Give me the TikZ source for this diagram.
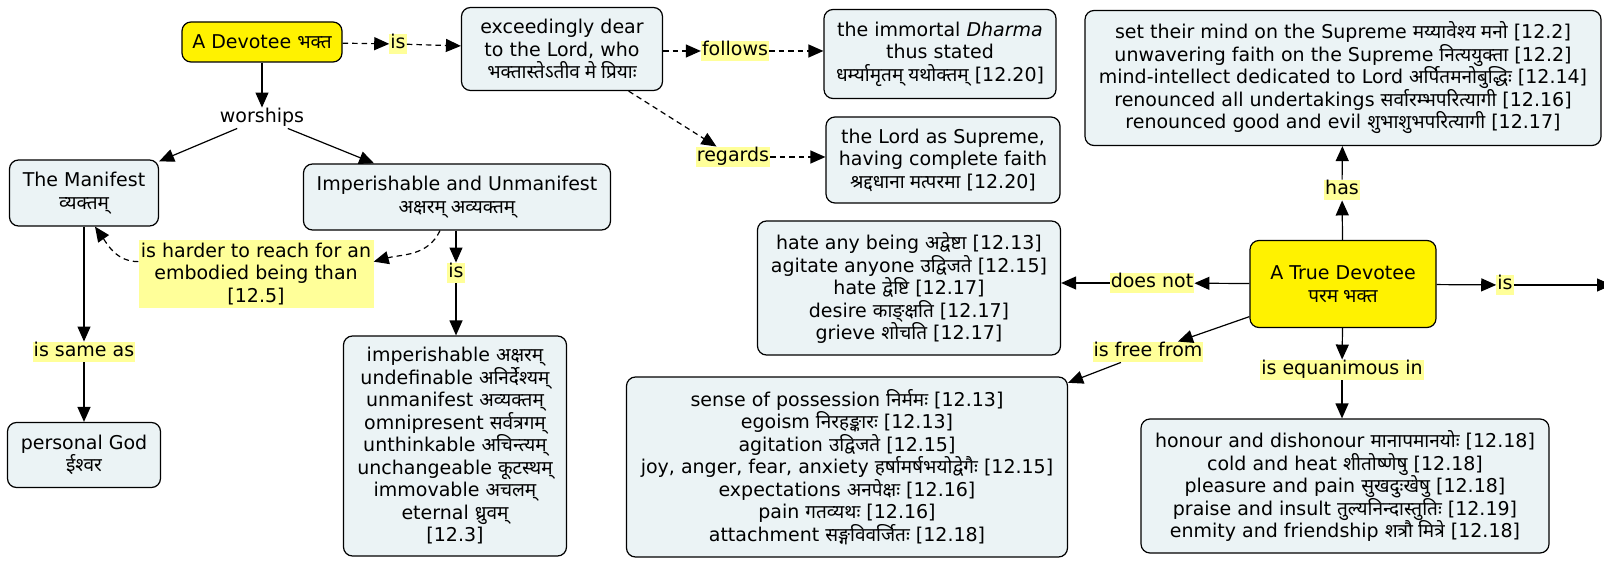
\documentclass[tikz,border=0pt]{standalone}
\usepackage{fontspec}
\setmainfont{DejaVu Sans}
\newfontfamily\devfont[Script=Devanagari]{Noto Sans}
\newcommand{\dev}[1]{{\devfont #1}}
\usepackage{xcolor}
\usepackage{tikz}
\usetikzlibrary{
  calc,
  positioning,
  arrows.meta
}
\definecolor{cmapblue}{RGB}{235,243,245}
\definecolor{linkyellow}{RGB}{255,255,153}

\begin{document}
\begin{tikzpicture}[>={Triangle[length=15pt,width=13pt]}, x=1pt, y=-1pt]
  \tikzset{
    concept/.style={
      draw, line width=1.2pt, rounded corners=9pt, fill=cmapblue,
      align=center, inner sep=0pt, font=\fontsize{19}{22.5}\selectfont
    },
    keyconcept/.style={concept, fill=yellow},
    linkword/.style={
      fill=linkyellow, inner sep=1pt, text height=14pt, text depth=4.5pt,
      font=\fontsize{19}{22.5}\selectfont
    },
    conn/.style={line width=1.2pt, ->},
    dashconn/.style={conn, dash pattern=on 5.5pt off 4pt},
    % every node/.style={font=\large}
  }
\useasboundingbox (0,0) rectangle (1604,564);

% left part
\node[keyconcept, minimum width=160pt, minimum height=40pt] (devotee) at (262,42)
  {A Devotee \dev{भक्त}};
\node[concept, minimum width=201pt, minimum height=83pt] (dear) at (562,49)
  {exceedingly dear\\to the Lord, who\\\dev{भक्तास्तेऽतीव मे प्रियाः}};
\node[concept, minimum width=232pt, minimum height=89pt] (dharma) at (940,54)
  {the immortal \textit{Dharma}\\thus stated\\\dev{धर्म्यामृतम् यथोक्तम्} [12.20]};
\node[concept, minimum width=234pt, minimum height=86pt] (lordsup) at (943,160)
  {the Lord as Supreme,\\having complete faith\\\dev{श्रद्दधाना मत्परमा} [12.20]};
\node[concept, minimum width=149pt, minimum height=66pt] (manifest) at (84,193)
  {The Manifest\\\dev{व्यक्तम्}};
\node[concept, minimum width=307pt, minimum height=66pt] (unmanifest) at (457,197)
  {Imperishable and Unmanifest\\\dev{अक्षरम् अव्यक्तम्}};
\node[concept, minimum width=153pt, minimum height=65pt] (personal) at (84,455)
  {personal God\\\dev{ईश्वर}};
\node[concept, minimum width=223pt, minimum height=220pt] (imperish) at (455,446)
  {imperishable \dev{अक्षरम्}\\undefinable \dev{अनिर्देश्यम्}\\unmanifest \dev{अव्यक्तम्}\\
   omnipresent \dev{सर्वत्रगम्}\\unthinkable \dev{अचिन्त्यम्}\\unchangeable \dev{कूटस्थम्}\\
   immovable \dev{अचलम्}\\eternal \dev{ध्रुवम्}\\{[12.3]}};

% right part
\node[concept, minimum width=516pt, minimum height=135pt] (setmind) at (1343,78)
  {set their mind on the Supreme \dev{मय्यावेश्य मनो} [12.2]\\
   unwavering faith on the Supreme \dev{नित्ययुक्ता} [12.2]\\
   mind-intellect dedicated to Lord \dev{अर्पितमनोबुद्धिः} [12.14]\\
   renounced all undertakings \dev{सर्वारम्भपरित्यागी} [12.16]\\
   renounced good and evil \dev{शुभाशुभपरित्यागी} [12.17]};
\node[keyconcept, minimum width=186pt, minimum height=87pt] (truedev) at (1343,284)
  {A True Devotee\\\dev{परम भक्त}};
\node[concept, minimum width=303pt, minimum height=134pt] (hate) at (909,288)
  {hate any being \dev{अद्वेष्टा} [12.13]\\agitate anyone \dev{उद्विजते} [12.15]\\
   hate \dev{द्वेष्टि} [12.17]\\desire \dev{काङ्क्षति} [12.17]\\grieve \dev{शोचति} [12.17]};
\node[concept, minimum width=441pt, minimum height=180pt] (possession) at (847,467)
  {sense of possession \dev{निर्ममः} [12.13]\\egoism \dev{निरहङ्कारः} [12.13]\\
   agitation \dev{उद्विजते} [12.15]\\
   joy, anger, fear, anxiety \dev{हर्षामर्षभयोद्वेगैः} [12.15]\\
   expectations \dev{अनपेक्षः} [12.16]\\pain \dev{गतव्यथः} [12.16]\\
   attachment \dev{सङ्गविवर्जितः} [12.18]};
\node[concept, minimum width=408pt, minimum height=134pt] (honour) at (1345,486)
  {honour and dishonour \dev{मानापमानयोः} [12.18]\\cold and heat \dev{शीतोष्णेषु} [12.18]\\
   pleasure and pain \dev{सुखदुःखेषु} [12.18]\\
   praise and insult \dev{तुल्यनिन्दास्तुतिः} [12.19]\\
   enmity and friendship \dev{शत्रौ मित्रे} [12.18]};

% linking words
\node[linkword] (is1) at (398,44) {is};
\node[linkword] (follows) at (735,51) {follows};
\node[linkword] (regards) at (733,157) {regards};
\node[linkword, fill=none] (worships) at (262,118) {worships};
\node[linkword] (is2) at (456,273) {is};
\node[linkword] (sameas) at (84,352) {is same as};
\node[linkword, text height=, text depth=, align=center, minimum width=235pt,
  minimum height=67pt, inner sep=0pt] (harder) at (256,274)
  {is harder to reach for an\\embodied being than\\{[12.5]}};
\node[linkword] (has) at (1342,190) {has};
\node[linkword] (doesnot) at (1152,283) {does not};
\node[linkword] (is3) at (1505,285) {is};
\node[linkword] (freefrom) at (1148,352) {is free from};
\node[linkword] (equan) at (1342,370) {is equanimous in};
\coordinate (offedge) at (1612,285);

% connectors
\draw[dashconn] (devotee) -- (is1);
\draw[dashconn] (is1) -- (dear);
\draw[dashconn] (dear.east |- follows) -- (follows);
\draw[dashconn] (follows) -- (dharma.west |- follows);
\draw[dashconn] (dear) -- (regards);
\draw[dashconn] (regards) -- (lordsup.west |- regards);
\draw[conn] (devotee) -- (worships);
\draw[conn] (worships) -- (manifest);
\draw[conn] (worships) -- (unmanifest);
\draw[conn] (unmanifest.south -| is2) -- (is2);
\draw[conn] (is2) -- (imperish.north -| is2);
\draw[conn] (manifest) -- (sameas);
\draw[conn] (sameas) -- (personal);
\draw[dashconn] ([xshift=-17pt]unmanifest.south) to[out=-115, in=15] (harder.6);
\draw[dashconn] (harder.174) to[out=180, in=-55] ([xshift=11pt]manifest.south);

\draw[conn] (truedev) -- (has);
\draw[conn] (has) -- (setmind);
\draw[conn] (truedev) -- (doesnot);
\draw[conn] (doesnot) -- (hate.east |- doesnot);
\draw[conn] (truedev) -- (is3);
\draw[conn] (is3) -- (offedge);
\draw[conn] (truedev) -- (freefrom);
\draw[conn] (freefrom) -- (possession);
\draw[conn] (truedev) -- (equan);
\draw[conn] (equan) -- (honour.north -| equan);

\end{tikzpicture}
\end{document}
